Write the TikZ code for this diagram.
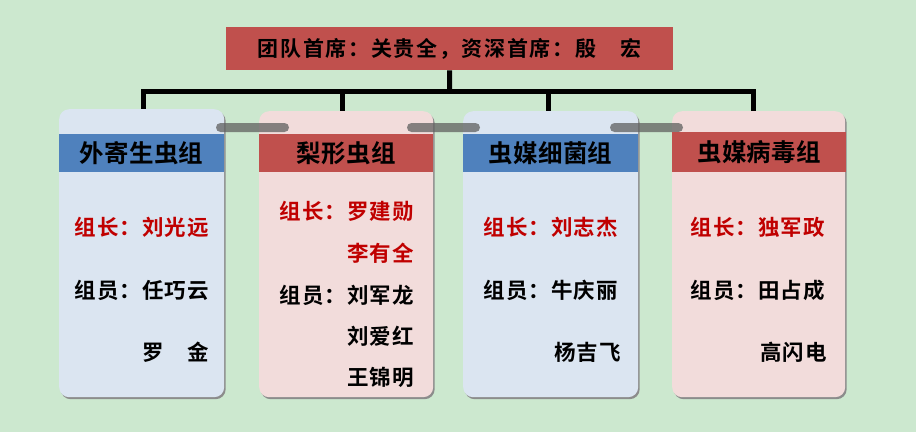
\documentclass[tikz,border=0pt]{standalone}
\usepackage{fontspec}
\newfontfamily\cjk{Noto Sans CJK SC Bold}
\usetikzlibrary{shadows}
\definecolor{bg}{HTML}{CCE8CF}
\definecolor{cardblue}{HTML}{DBE5F1}
\definecolor{cardpink}{HTML}{F2DCDB}
\definecolor{headblue}{HTML}{4F81BD}
\definecolor{headred}{HTML}{C0504D}
\definecolor{leadred}{HTML}{C00000}
\definecolor{bargray}{HTML}{606060}
\tikzset{
  card/.style={anchor=north west, inner sep=0pt, rounded corners=10pt,
    drop shadow={shadow xshift=1.5pt, shadow yshift=-2pt, fill=black!45, opacity=1}},
  cardb/.style={card, fill=cardblue},
  cardp/.style={card, fill=cardpink},
  head/.style={anchor=north west, inner sep=0pt, text=black,
    font=\fontsize{24.5}{24.5}\selectfont\cjk\addfontfeature{LetterSpace=1}},
  headb/.style={head, fill=headblue},
  headr/.style={head, fill=headred},
  line/.style={anchor=east, inner sep=0pt,
    font=\fontsize{21.5}{21.5}\selectfont\cjk\addfontfeature{LetterSpace=4.5}},
  lead/.style={line, text=leadred},
  memb/.style={line, text=black},
  conn/.style={line width=5pt, draw=black, line join=miter},
  graybar/.style={fill=bargray, opacity=0.75, rounded corners=4.5pt},
}
\begin{document}
\begin{tikzpicture}[x=1pt,y=-1pt]
\useasboundingbox (0,0) rectangle (916,432);
\fill[bg] (0,0) rectangle (916,432);

% top box
\node[fill=headred, anchor=north west, minimum width=447pt, minimum height=43pt, inner sep=0pt,
  font=\fontsize{21}{21}\selectfont\cjk\addfontfeature{LetterSpace=8}]
  (top) at (226,27) {团队首席：关贵全，资深首席：殷　宏};

% cards
\node[cardb, minimum width=165pt, minimum height=288pt] (b1) at (59,109) {};
\node[cardp, minimum width=174pt, minimum height=286pt] (b2) at (259,111) {};
\node[cardb, minimum width=175pt, minimum height=286pt] (b3) at (463,111) {};
\node[cardp, minimum width=173pt, minimum height=286pt] (b4) at (672,111) {};

% connectors
\coordinate (j) at (449.5,91);
\draw[conn] (top.south) -- (j);
\draw[conn] (j) -| ([xshift=1.5pt]b1.north);
\draw[conn] (j) -| ([xshift=-4pt]b2.north);
\draw[conn] (j) -| ([xshift=-2.5pt]b3.north);
\draw[conn] (j) -| ([xshift=-5.5pt]b4.north);

% gray bars
\fill[graybar] (216,123) rectangle (289,132);
\fill[graybar] (407,123) rectangle (480,132);
\fill[graybar] (610,123) rectangle (683,132);

% headers
\node[headb, minimum width=165pt, minimum height=38pt] (h1) at (59,134) {外寄生虫组};
\node[headr, minimum width=174pt, minimum height=38pt] (h2) at (259,134) {梨形虫组};
\node[headb, minimum width=175pt, minimum height=38pt] (h3) at (463,134) {虫媒细菌组};
\node[headr, minimum width=174pt, minimum height=40pt] (h4) at (672,132) {虫媒病毒组};

% card 1
\node[lead] (t11) at (209,227) {组长：刘光远};
\node[memb] (t12) at (209,290) {组员：任巧云};
\node[memb] (t13) at (209,352) {罗　金};
% card 2
\node[lead] (t21) at (414,211) {组长：罗建勋};
\node[lead] (t22) at (414,253) {李有全};
\node[memb] (t23) at (414,295) {组员：刘军龙};
\node[memb] (t24) at (414,336) {刘爱红};
\node[memb] (t25) at (414,377) {王锦明};
% card 3
\node[lead] (t31) at (618,227) {组长：刘志杰};
\node[memb] (t32) at (618,290) {组员：牛庆丽};
\node[memb] (t33) at (621,352) {杨吉飞};
% card 4
\node[lead] (t41) at (825,227) {组长：独军政};
\node[memb] (t42) at (825,290) {组员：田占成};
\node[memb] (t43) at (827,352) {高闪电};
\end{tikzpicture}
\end{document}
